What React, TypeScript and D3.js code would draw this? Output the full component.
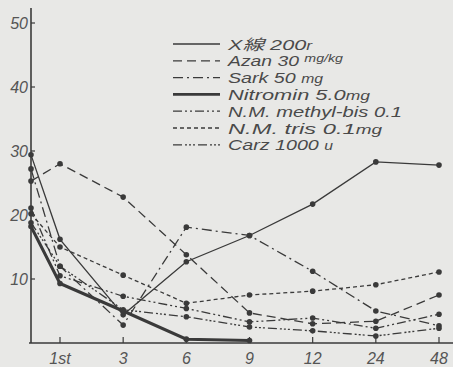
import React from "react";
import * as d3 from "d3";

const W = 453;
const H = 367;

const xTickLabels = ["1st", "3", "6", "9", "12", "24", "48"];
const yTicks = [10, 20, 30, 40, 50];

// first value is the initial reading (drawn on the y axis), then 1st..48
const xRay = [29.4, 16.2, 4.4, 12.7, 16.8, 21.7, 28.3, 27.8];
const azan = [25.3, 28.0, 22.8, 13.8, 4.7, 3.0, 3.4, 7.5];
const sark = [27.2, 12.0, 2.8, 18.1, 16.8, 11.2, 5.0, 2.7];
const nitromin = [18.2, 9.3, 5.0, 0.6, 0.4];
const methylBis = [21.1, 10.5, 7.3, 5.4, 3.3, 3.9, 2.3, 4.5];
const tris = [20.2, 15.0, 10.6, 6.2, 7.5, 8.1, 9.1, 11.1];
const carz = [18.8, 12.0, 5.2, 4.1, 2.5, 1.9, 1.1, 2.3];

const seriesNames = ["X線 200", "Azan 30 ", "Sark 50 ", "Nitromin 5.0", "N.M. methyl-bis 0.1", "N.M. tris  0.1", "Carz 1000 "];
const seriesUnits = ["r", "mg/kg", "mg", "mg", "", "mg", "u"];
const seriesValues = [xRay, azan, sark, nitromin, methylBis, tris, carz];
const seriesDash = ["", "9,5", "10,4,2,4", "", "9,3,2,3,2,3", "4,3", "9,3,2,2,2,2,2,3"];
const seriesWidth = [1.3, 1.3, 1.3, 3, 1.3, 1.3, 1.3];
const legendTextWidth = [84, 115, 95, 142, 174, 154, 105];

export default function App() {
  const axisX = 31;
  const axisY = 343;
  const x = d3.scaleLinear().domain([0, 6]).range([60, 439]);
  const y = d3.scaleLinear().domain([0, 50]).range([axisY, 23]);
  const startIdx = x.invert(axisX);
  const xOf = (i: number) => (i === 0 ? x(startIdx) : x(i - 1));
  const line = d3
    .line<number>()
    .x((_, i) => xOf(i))
    .y((d) => y(d));

  const ink = "#3a3a3a";
  const font = "'Liberation Sans', Arial, sans-serif";

  return (
    <svg
      width={W}
      height={H}
      style={{ position: "absolute", left: 0, top: 0, background: "#e8e8e6" }}
    >
      {/* axes */}
      <line x1={axisX} y1={8} x2={axisX} y2={axisY} stroke={ink} strokeWidth={1.6} />
      <line x1={29} y1={axisY} x2={W} y2={axisY} stroke={ink} strokeWidth={1.6} />
      {yTicks.map((t) => (
        <g key={t}>
          <line x1={axisX} x2={axisX + 4} y1={y(t)} y2={y(t)} stroke={ink} strokeWidth={1.2} />
          <text
            x={axisX - 3}
            y={y(t) + 6}
            textAnchor="end"
            fontFamily={font}
            fontStyle="italic"
            fontSize={16}
            fill="#555"
          >
            {t}
          </text>
        </g>
      ))}
      {xTickLabels.map((t, i) => (
        <g key={t}>
          <line x1={x(i)} x2={x(i)} y1={axisY} y2={axisY - 6} stroke={ink} strokeWidth={1.2} />
          <text
            x={x(i)}
            y={364}
            textAnchor="middle"
            fontFamily={font}
            fontStyle="italic"
            fontSize={16}
            fill="#555"
          >
            {t}
          </text>
        </g>
      ))}

      {/* series */}
      {seriesValues.map((vals, s) => (
        <g key={s}>
          <path
            d={line(vals) || ""}
            fill="none"
            stroke={ink}
            strokeWidth={seriesWidth[s]}
            strokeDasharray={seriesDash[s] || undefined}
          />
          {vals.map((v, i) => (
            <circle key={i} cx={xOf(i)} cy={y(v)} r={2.8} fill={ink} />
          ))}
        </g>
      ))}

      {/* legend */}
      {seriesNames.map((name, i) => {
        const ly = 44 + i * 16.8;
        return (
          <g key={name}>
            <line
              x1={173}
              x2={220}
              y1={ly}
              y2={ly}
              stroke={ink}
              strokeWidth={seriesWidth[i] === 3 ? 2.8 : 1.3}
              strokeDasharray={seriesDash[i] || undefined}
            />
            <text
              x={228}
              y={ly + 5.5}
              fontFamily={`${font}, 'Noto Sans CJK JP'`}
              fontStyle="italic"
              fontSize={15}
              fill="#4a4a4a"
              textLength={legendTextWidth[i]}
              lengthAdjust="spacingAndGlyphs"
            >
              {name}
              {seriesUnits[i] && (
                <tspan fontSize={i === 1 ? 11 : 12} dy={i === 1 ? -4 : 0}>
                  {seriesUnits[i]}
                </tspan>
              )}
            </text>
          </g>
        );
      })}
    </svg>
  );
}
